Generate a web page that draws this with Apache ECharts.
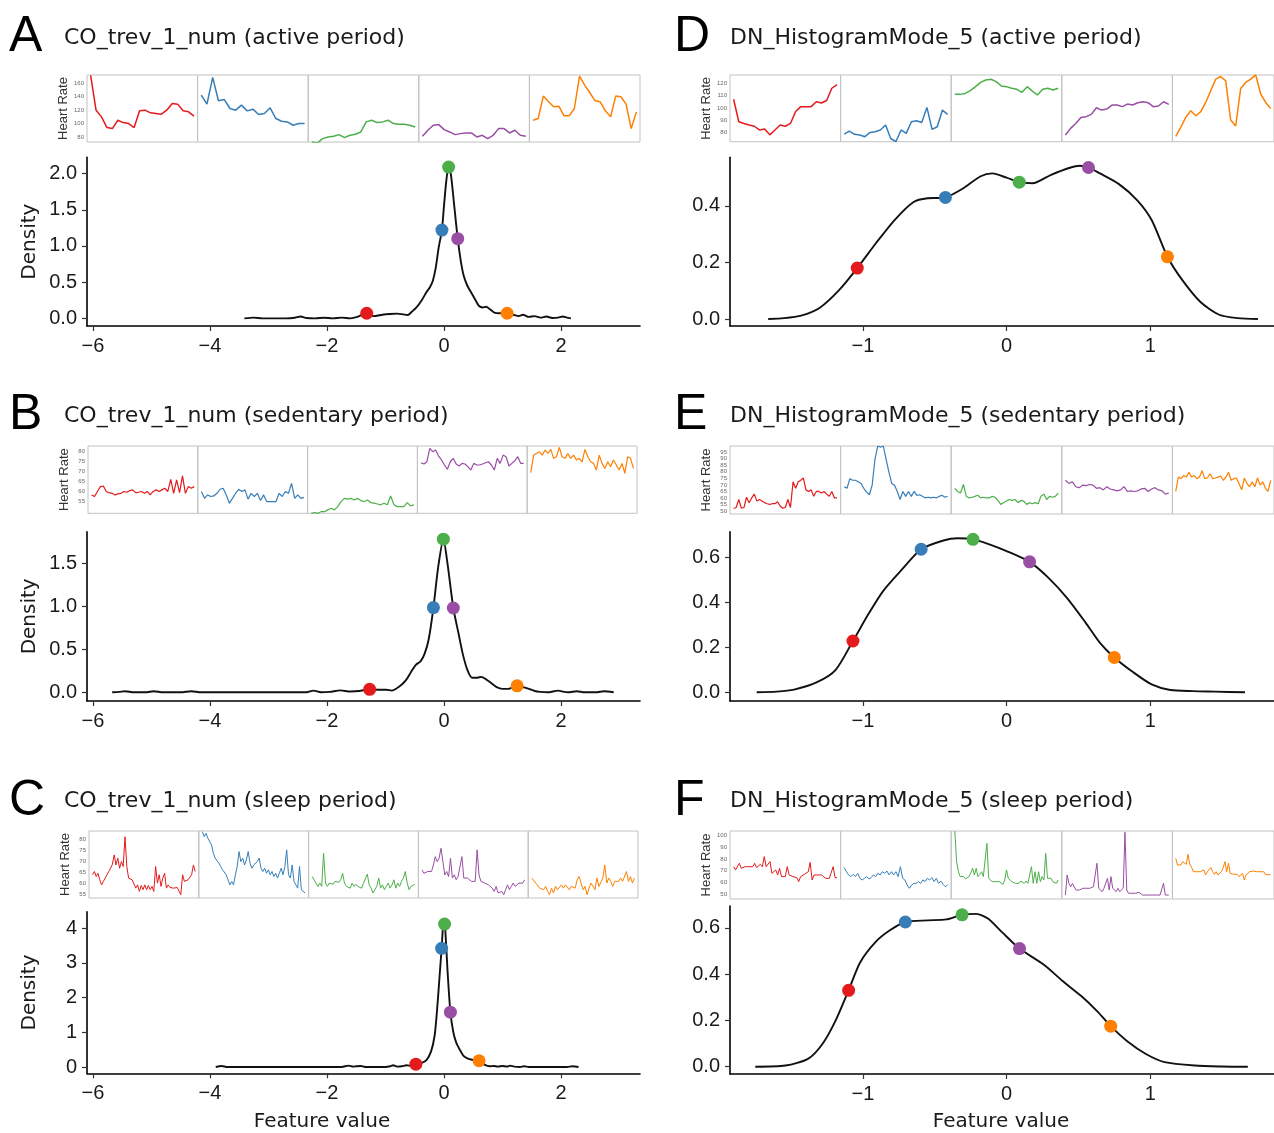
<!DOCTYPE html>
<html><head><meta charset="utf-8">
<script src="https://cdn.jsdelivr.net/npm/echarts@6/dist/echarts.min.js"></script>
<style>html,body{margin:0;padding:0;background:#fff}#c{width:1274px;height:1133px}</style>
</head><body><div id="c"></div>
<script>
// ---------- DATA ----------
const seriesColors = ['#E41A1C','#377EB8','#4DAF4A','#984EA3','#FF7F00'];
const panelLetters = ['A','B','C','D','E','F'];
const panelTitles = ['CO_trev_1_num (active period)','CO_trev_1_num (sedentary period)','CO_trev_1_num (sleep period)',
  'DN_HistogramMode_5 (active period)','DN_HistogramMode_5 (sedentary period)','DN_HistogramMode_5 (sleep period)'];
const xAxisTitle = 'Feature value';

// heart-rate strips (red, blue, green, purple, orange)
const hrA = [
 [172,120,110,94,92.5,105,101.5,100,94,119,120,116,115,114,120,130,129,119,117.5,111],
 [142.5,129,169,134,136,122.5,120,127.5,119,121.5,113.5,115,123.5,107.5,103.5,102.5,97.5,100,100],
 [72.5,71,77.5,80,81,83.5,79,82.5,84,87.5,102.5,105,101.5,102.5,105,100,99,99,97.5,95],
 [81,90,97.5,98.5,91,87.5,83.5,85,86,86,80,82.5,77.5,82.5,92.5,92.5,86,90,82.5,81],
 [105,107.5,141,132.5,125,126,111.5,111.5,122.5,171,157.5,146,134,132.5,119,110,141,140,129,92.5,117.5]
];
const hrB = [
 [58.3,57.5,60,62.4,62.7,60,59.4,59.1,58.3,58.8,59.1,60,59.6,60.4,60.8,59.4,59.6,60,59.1,60,58.3,60,60.8,60,60.8,61.6,60,66,59.1,65.7,59.4,67.7,59.1,62.4,61.6,62.4],
 [60,56.6,58.3,57.5,57.8,59.1,61.1,61.6,58.3,54.2,56.6,59.1,61.1,60,60.8,56.2,59.1,57.5,59.1,55.5,58.3,55,55,55,55,59.1,57.5,60,59.1,64,56.6,58.3,56.6,57.1],
 [49.2,49.6,49.2,50,50,50.9,51.7,50.9,52.5,55,56.6,56.2,56.6,55.8,56.6,55.5,55,55.8,54.5,54.2,53.8,53.4,54.2,53.4,57.8,53.4,52.5,52.5,52.5,54.5,52.9,53.4],
 [74.2,73.6,74.7,81.3,79.7,80.5,77.5,75.6,73.1,71,74.7,76.4,73.6,72.6,73.9,73.6,72.3,70.6,73.9,73.1,73.1,73.6,74.2,74.7,73.1,70.6,76.4,73.9,78,77.2,72.6,73.9,75.2,77.2,73.9,73.9],
 [69.3,78,78.8,79.7,78,80.5,78.8,80.8,76.4,77.2,81.8,77.2,76.4,78.8,76.4,78,75.6,76.4,74.7,80.8,77.2,74.7,73.9,70.6,78,73.9,71.4,74.7,72.3,75.6,73.1,70.6,73.9,69,77.2,76.4,71.4]
];
const hrC = [
 [63.8,65.3,63,64.5,61.5,59.2,60.8,62.3,63.8,65.3,66.8,68.6,72.9,68.3,71.4,66.8,69.8,67.6,81.2,67.6,62.3,62.6,61.5,60.8,57.7,59.2,56.2,58.9,57,59.2,57,58.9,57,58.5,56.2,67.6,60,63.8,58.5,62.3,64.5,57.7,59.2,58,58.5,57.7,58.5,58,58.5,54.7,63.8,60.8,61.1,61.5,62.3,63.8,68.3,65.3],
 [83.5,81.2,82.7,80.5,81.2,77.4,73.6,71.4,72.1,69.1,67.6,66.1,66.8,63.8,61.5,59.2,60.8,59.2,63.8,67.6,74.4,69.8,71.4,68.3,70.6,74.4,69.1,66.8,68.3,67.6,69.8,71.4,66.8,65.3,66.8,64.5,66.1,63.8,65.3,63,64.5,62.3,64.5,66.8,63.8,67.6,75.2,63.8,62.3,68.3,60.8,59.2,57.7,67.6,57,56.2,55.5],
 [63,62.3,60,58.5,60,58.5,73.6,60,58.5,60,60.8,59.5,60.8,61.5,60.4,61.5,64.5,60,58.5,59.2,57.7,60,58.5,59.5,58.5,59.2,57.7,60,60,64.1,59.2,57.7,55.5,57,58.5,62.3,57.7,59.2,57,58.5,60,57.7,59.2,61.5,57.7,60,58.5,60.8,62.3,65.3,60,57,58.5,59.2,59.5],
 [66.1,64.5,63.8,65.3,64.5,65.3,68.3,72.1,69.8,71.4,75.9,69.8,63.8,65.3,63,71.4,62.3,63.8,61.5,63,62.3,72.1,62.3,61.5,62.3,61.5,60.8,61.5,60.8,75.2,63.8,60.8,61.5,60,60.8,59.2,60,57.7,56.2,58.5,55.5,54.7,56.2,54.7,57,59.2,57,58.5,60,58.5,59.2,60,60.8,60,61.5],
 [62.3,61.5,60,60.8,57.7,58.5,57,58.5,56.2,54.7,57.7,55.5,58.5,57,57.7,59.2,57.7,59.2,58.5,57,58.5,59.2,57.7,61.5,63,60,57,58.5,54.7,57.7,60,59.2,57,62.3,58.5,59.2,62.3,68.3,60,62.3,60.8,58.5,60.8,61.5,60.8,62.3,60.8,61.5,65.3,60.8,63,60,62.3]
];
const hrD = [
 [107,88.7,87.3,86,85,82,82.7,78,82,86,85,87.3,97,101,101,101,105,104,106,116,119],
 [78.6,81,78.4,77.8,76.5,80,80.5,82,86,75,72.4,82,79.2,88.7,89.5,88,100.4,82.4,84.6,98.2,94.7],
 [111,111,111.8,114,117.3,120.8,122.7,123.3,121.4,117.8,117.3,116,115.1,112.7,117.3,113.7,110.5,115.1,116,114.6,116],
 [77.8,83.3,87.3,92.2,92.8,94.7,100.1,98.2,99,102.3,102.3,101,103.1,102.3,104.2,105,104.2,101,101.5,105,102.9],
 [76.7,84,92.2,97.6,93.5,96.8,104.4,113.9,123.4,125.6,122,90.1,85.2,115.8,120.7,123.4,126.9,111.3,104.4,99.4]
];
const hrE = [
 [52.2,52.9,59,52.4,52.9,60.7,56.6,60.2,63.1,57.8,59,57.8,56.6,55.8,55.3,55.8,55.8,57.3,54.1,52.4,52.9,59,52.9,72.4,67.5,72.4,73.6,75.3,66.3,65.1,66.3,61.4,65.1,65.1,63.9,65.1,63.1,61.4,65.1,60.2,60.2],
 [68.7,67.5,74.8,73.6,73.6,72.4,71.2,67.5,64.6,62.6,69.9,89.4,99.6,98.6,99.6,89.4,79.7,71.2,69.9,65.1,59,65.1,61.4,65.1,61.4,65.1,62.2,62.6,61.4,60.2,60.7,60.2,60.7,60.2,61.4,62.2,60.7,61.4],
 [67.5,65.1,63.9,70.4,61.4,60.2,60.7,61.4,62.2,60.2,60.7,60.2,60.2,61.4,60.7,58.3,55.3,56.6,57.8,59,58.3,59,56.6,58.3,57.8,55.3,56.6,55.8,56.6,55.8,61.4,63.1,59,61.4,60.7,61.4,63.9],
 [73.6,71.2,72.4,68.7,68,69.9,69.5,70.4,69.9,67.5,68,66.3,68.7,67,66.3,65.6,66.3,68.7,65.1,65.6,65.1,65.6,67,67.5,65.1,67,68,66.3,65.6,63.1,63.9],
 [65.1,76,74.8,77.2,76,79.7,76,77.2,74.8,76,80.9,74.8,75.3,78.5,74.8,75.3,76,76.8,73.6,76,79.7,73.6,74.8,75.3,71.2,66.3,75.3,71.2,68.7,72.4,68.7,75.3,69.9,72.4,67.5,65.1,73.6]
];
const hrF = [
 [73.4,70.6,72,76.3,72,72.6,73.4,73.4,73.4,72.6,73.4,76.3,72.6,73.4,75.4,73.4,82,73.4,72,77.7,67.7,69.1,70.6,66.3,72,64.9,66.3,64.9,73.4,66.3,67.7,64.9,66.3,64,60.6,64.9,65.7,66.9,67.7,69.1,77.1,62,66.3,67.7,66.3,64.9,66.3,64.9,63.4,64,63.4,64.9,73.4,64,64],
 [72.6,69.1,66.3,64.9,66.9,64.9,67.7,63.4,62,63.4,64.9,62.9,64,66.3,64.9,67.7,66.3,69.1,67.7,69.7,66.3,69.1,66.3,69.1,64.9,73.4,63.4,62,57.7,54.9,57.7,59.1,59.1,60.6,59.1,62,60.6,63.4,62,64,60.6,63.4,59.1,61.1,58.3,56.3,57.7],
 [104,77.7,69.1,64.9,63.4,64.9,62.9,63.4,64.9,66.3,72,66.3,72,64.9,66.9,69.1,64.9,66.3,93.4,63.4,62,60.6,62,60.6,59.1,60.6,59.1,58.3,62,70.6,63.4,62,60.6,61.1,59.1,60.6,59.1,61.1,60.6,59.1,61.1,59.1,60.6,73.4,59.1,69.1,59.1,69.1,60.6,64.9,62,84.9,63.4,62,63.4,60.6,62,59.1,62],
 [49.1,66.3,59.1,56.3,59.1,57.7,53.4,54.9,53.4,53.4,54.9,53.4,54.9,53.4,54.9,53.4,56.3,57.7,76.3,54.9,53.4,52,54.9,53.4,63.4,53.4,64.9,54.9,53.4,52,54.9,52,53.4,54.9,102.9,53.4,50.6,49.7,50.6,49.1,50.6,49.1,51.4,50.6,49.1,50.6,49.1,48.6,49.1,48.6,49.1,48.6,49.1,48.6,49.1,48.6,59.1,49.1,49.1,49.1],
 [80.6,74.9,76.3,74.9,77.7,76.3,75.4,84,75.4,72.9,69.1,67.7,69.1,70.6,69.1,67.7,70.6,66.3,69.1,70.6,72.6,69.1,66.9,69.1,66.3,67.7,69.1,72.6,77.7,69.1,76.3,67.7,69.1,66.9,66.3,66.9,64.9,64,67.7,62,66.3,67.7,69.1,67.7,69.7,70.6,69.1,70.6,69.1,67.7,69.1,66.9,67.7,66.3,66.9]
];
const hrTicksA = [80,100,120,140,160];
const hrTicksB = [55,60,65,70,75,80];
const hrTicksC = [55,60,65,70,75,80];
const hrTicksD = [80,90,100,110,120];
const hrTicksE = [50,55,60,65,70,75,80,85,90,95];
const hrTicksF = [50,60,70,80,90,100];
const hrRangeA = [72.5,172.5], hrRangeB = [49.2,82.5], hrRangeC = [53.2,83.8];
const hrRangeD = [72.4,126.8], hrRangeE = [48.0,99.6], hrRangeF = [45.7,104];

// density curves [feature value, density]
const densA = [[-3.41,0],[-3.25,0.01],[-3.1,0],[-2.9,0],[-2.7,0],[-2.55,0.008],[-2.45,0.025],[-2.35,0.005],[-2.2,0],[-2.05,0.008],[-1.9,0],[-1.75,0.01],[-1.6,0],[-1.48,0.02],[-1.32,0.07],[-1.2,0.03],[-1.05,0.05],[-0.92,0.06],[-0.8,0.065],[-0.7,0.055],[-0.62,0.045],[-0.55,0.09],[-0.47,0.15],[-0.38,0.25],[-0.3,0.36],[-0.24,0.43],[-0.19,0.52],[-0.14,0.7],[-0.09,0.98],[-0.035,1.22],[0,1.55],[0.04,1.9],[0.08,2.1],[0.12,1.98],[0.17,1.6],[0.235,1.1],[0.29,0.78],[0.34,0.58],[0.4,0.45],[0.47,0.35],[0.54,0.25],[0.6,0.17],[0.66,0.15],[0.72,0.16],[0.78,0.13],[0.86,0.08],[0.95,0.07],[1.08,0.07],[1.18,0.05],[1.28,0.03],[1.35,0.05],[1.45,0.02],[1.55,0.03],[1.65,0.01],[1.75,0.025],[1.85,0.005],[1.95,0.01],[2.03,0.025],[2.1,0.01],[2.17,0]];
const densB = [[-5.67,0],[-5.55,0.005],[-5.45,0.012],[-5.3,0],[-5.1,0],[-4.96,0.012],[-4.8,0],[-4.5,0],[-4.32,0.012],[-4.15,0],[-3.5,0],[-2.8,0],[-2.35,0],[-2.23,0.02],[-2.1,0],[-1.95,0.005],[-1.77,0.022],[-1.6,0.01],[-1.45,0.015],[-1.27,0.035],[-1.1,0.03],[-0.99,0.03],[-0.89,0.02],[-0.8,0.05],[-0.72,0.09],[-0.64,0.15],[-0.56,0.24],[-0.48,0.32],[-0.4,0.36],[-0.33,0.45],[-0.26,0.62],[-0.18,0.985],[-0.1,1.45],[-0.01,1.78],[0.06,1.5],[0.16,0.98],[0.25,0.68],[0.32,0.45],[0.4,0.26],[0.48,0.17],[0.57,0.17],[0.64,0.18],[0.72,0.15],[0.8,0.11],[0.9,0.06],[1,0.04],[1.1,0.04],[1.25,0.075],[1.35,0.06],[1.45,0.04],[1.55,0.015],[1.65,0.005],[1.77,0],[1.95,0.02],[2.05,0.005],[2.12,0],[2.27,0.012],[2.4,0],[2.6,0],[2.73,0.012],[2.9,0]];
const densC = [[-3.9,0],[-3.8,0.03],[-3.7,0],[-3.2,0],[-2.6,0],[-2,0],[-1.75,0],[-1.63,0.04],[-1.55,0.01],[-1.5,0.02],[-1.42,0.03],[-1.35,0],[-1.2,0],[-1,0],[-0.92,0.02],[-0.87,0.05],[-0.8,0.01],[-0.72,0.02],[-0.64,0.05],[-0.55,0.03],[-0.48,0.08],[-0.38,0.12],[-0.3,0.2],[-0.22,0.45],[-0.16,0.9],[-0.12,1.6],[-0.08,2.5],[-0.04,3.42],[-0.01,4.2],[0.005,4.25],[0.02,4.05],[0.06,2.8],[0.11,1.58],[0.16,1],[0.21,0.7],[0.27,0.5],[0.33,0.33],[0.4,0.25],[0.48,0.21],[0.6,0.18],[0.7,0.06],[0.78,0.02],[0.85,0.03],[0.92,0.01],[1,0.03],[1.08,0.01],[1.13,0.04],[1.2,0.01],[1.3,0],[1.37,0.02],[1.45,0],[1.8,0],[2.1,0],[2.2,0.02],[2.3,0]];
const densD = [[-1.66,0],[-1.55,0.003],[-1.43,0.012],[-1.3,0.04],[-1.17,0.1],[-1.04,0.18],[-0.91,0.268],[-0.78,0.35],[-0.65,0.413],[-0.55,0.427],[-0.48,0.428],[-0.426,0.43],[-0.31,0.46],[-0.18,0.505],[-0.1,0.515],[0,0.5],[0.088,0.484],[0.18,0.48],[0.31,0.51],[0.44,0.535],[0.51,0.542],[0.57,0.536],[0.65,0.515],[0.78,0.478],[0.91,0.42],[1.01,0.35],[1.12,0.22],[1.22,0.14],[1.35,0.06],[1.48,0.015],[1.61,0.003],[1.75,0]];
const densE = [[-1.74,0],[-1.6,0.003],[-1.48,0.012],[-1.32,0.045],[-1.19,0.1],[-1.07,0.228],[-0.96,0.35],[-0.86,0.45],[-0.73,0.545],[-0.595,0.636],[-0.44,0.675],[-0.34,0.685],[-0.234,0.68],[-0.13,0.66],[0,0.628],[0.16,0.58],[0.29,0.51],[0.42,0.42],[0.55,0.31],[0.65,0.22],[0.75,0.155],[0.88,0.09],[1.01,0.035],[1.14,0.01],[1.3,0.005],[1.45,0.003],[1.66,0]];
const densF = [[-1.75,0],[-1.54,0.005],[-1.38,0.035],[-1.28,0.1],[-1.19,0.2],[-1.1,0.33],[-1.02,0.45],[-0.91,0.54],[-0.81,0.59],[-0.705,0.625],[-0.55,0.632],[-0.42,0.636],[-0.31,0.656],[-0.21,0.66],[-0.13,0.64],[-0.03,0.58],[0.09,0.51],[0.26,0.44],[0.39,0.37],[0.52,0.305],[0.63,0.24],[0.725,0.175],[0.84,0.11],[0.97,0.055],[1.1,0.02],[1.31,0.005],[1.5,0.001],[1.68,0]];

// highlighted example points (red, blue, green, purple, orange)
const ptsA = [[-1.32,0.07],[-0.035,1.22],[0.08,2.09],[0.235,1.1],[1.08,0.07]];
const ptsB = [[-1.27,0.035],[-0.18,0.985],[-0.01,1.78],[0.16,0.98],[1.25,0.075]];
const ptsC = [[-0.48,0.08],[-0.04,3.42],[0.01,4.12],[0.11,1.58],[0.6,0.18]];
const ptsD = [[-1.04,0.18],[-0.426,0.43],[0.088,0.484],[0.57,0.536],[1.12,0.22]];
const ptsE = [[-1.07,0.228],[-0.595,0.636],[-0.234,0.68],[0.16,0.58],[0.75,0.155]];
const ptsF = [[-1.1,0.33],[-0.705,0.625],[-0.31,0.656],[0.09,0.51],[0.725,0.175]];

const xTicksLeft = [-6,-4,-2,0,2];
const xTicksRight = [-1,0,1];
const yTicksA = [0,0.5,1,1.5,2];
const yTicksB = [0,0.5,1,1.5];
const yTicksC = [0,1,2,3,4];
const yTicksD = [0,0.2,0.4];
const yTicksE = [0,0.2,0.4,0.6];
const yTicksF = [0,0.2,0.4,0.6];

// ---------- LAYOUT ----------
const layouts = [
 {lx:9,  ly:12,  tx:64,  ty:27,  sL:87,  sW:110.6, sT:75,  sH:67,   dL:87,  dW:553, dT:157.3, dH:168.7},
 {lx:9,  ly:390, tx:64,  ty:405, sL:88,  sW:109.8, sT:446, sH:67.3, dL:87,  dW:553, dT:531.7, dH:169.3},
 {lx:9,  ly:776, tx:64,  ty:790, sL:89,  sW:109.8, sT:831, sH:67,   dL:87,  dW:553, dT:911.7, dH:161.6},
 {lx:674,ly:12,  tx:730, ty:27,  sL:730, sW:110.6, sT:75,  sH:66.7, dL:730, dW:544, dT:157.3, dH:168.7},
 {lx:674,ly:390, tx:730, ty:405, sL:730, sW:110.6, sT:446, sH:68,   dL:730, dW:544, dT:531.7, dH:169.3},
 {lx:674,ly:776, tx:730, ty:790, sL:730, sW:110.6, sT:831, sH:68,   dL:730, dW:544, dT:906,   dH:168}
];
const xTitlePos = [[322,1122],[1001,1122]];
const panels = [
 {hr:hrA, hrT:hrTicksA, hrR:hrRangeA, dens:densA, pts:ptsA, yT:yTicksA, yR:[-0.106,2.225], xT:xTicksLeft, xR:[-6.1,3.35], dec:1, lw:1.5, yName:'Density'},
 {hr:hrB, hrT:hrTicksB, hrR:hrRangeB, dens:densB, pts:ptsB, yT:yTicksB, yR:[-0.101,1.867], xT:xTicksLeft, xR:[-6.1,3.35], dec:1, lw:1.2, yName:'Density'},
 {hr:hrC, hrT:hrTicksC, hrR:hrRangeC, dens:densC, pts:ptsC, yT:yTicksC, yR:[-0.182,4.476], xT:xTicksLeft, xR:[-6.1,3.35], dec:0, lw:1.0, yName:'Density'},
 {hr:hrD, hrT:hrTicksD, hrR:hrRangeD, dens:densD, pts:ptsD, yT:yTicksD, yR:[-0.0248,0.572], xT:xTicksRight, xR:[-1.926,1.862], dec:1, lw:1.5, yName:''},
 {hr:hrE, hrT:hrTicksE, hrR:hrRangeE, dens:densE, pts:ptsE, yT:yTicksE, yR:[-0.0387,0.714], xT:xTicksRight, xR:[-1.926,1.862], dec:1, lw:1.2, yName:''},
 {hr:hrF, hrT:hrTicksF, hrR:hrRangeF, dens:densF, pts:ptsF, yT:yTicksF, yR:[-0.0315,0.694], xT:xTicksRight, xR:[-1.926,1.862], dec:1, lw:1.0, yName:''}
];

function fmt(v, dec){ const s = Math.abs(v).toFixed(dec); return (v < 0 ? '\u2212' : '') + s; }

const grids=[], xAxes=[], yAxes=[], series=[], titles=[];
panels.forEach((p, pi) => {
  const L = layouts[pi];
  titles.push({text:panelLetters[pi], left:L.lx, top:L.ly, padding:0,
    textStyle:{fontFamily:'Liberation Sans, Arial, sans-serif', fontSize:50, fontWeight:'normal', color:'#000'}});
  titles.push({text:panelTitles[pi], left:L.tx, top:L.ty, padding:0,
    textStyle:{fontFamily:'DejaVu Sans, Verdana, sans-serif', fontSize:22, fontWeight:'normal', color:'#1a1a1a'}});
  p.hr.forEach((arr, si) => {
    const gi = grids.length;
    grids.push({left:L.sL + si*L.sW, top:L.sT, width:L.sW, height:L.sH, show:true, borderColor:'#c2c2c2', borderWidth:1});
    const n = arr.length, pad = (n-1)*0.035;
    xAxes.push({gridIndex:gi, type:'value', min:-pad, max:n-1+pad, show:false});
    yAxes.push({gridIndex:gi, type:'value', min:p.hrR[0], max:p.hrR[1],
      axisLine:{show:false}, axisTick:{show:false}, splitLine:{show:false},
      axisLabel:{show:si===0, customValues:p.hrT, fontSize:6, color:'#666', margin:3, fontFamily:'Liberation Sans'},
      name: si===0 ? 'Heart Rate' : '', nameLocation:'middle', nameGap:17, nameRotate:90,
      nameTextStyle:{fontSize:13, color:'#333', fontFamily:'Liberation Sans'}});
    series.push({type:'line', xAxisIndex:gi, yAxisIndex:gi, data:arr.map((v,k)=>[k,v]),
      showSymbol:false, symbol:'none', lineStyle:{color:seriesColors[si], width:p.lw}, silent:true, clip:true});
  });
  const gi = grids.length;
  grids.push({left:L.dL, top:L.dT, width:L.dW, height:L.dH});
  xAxes.push({gridIndex:gi, type:'value', min:p.xR[0], max:p.xR[1],
    axisLine:{onZero:false, lineStyle:{color:'#000', width:1.6}},
    axisTick:{customValues:p.xT, length:5, lineStyle:{color:'#333', width:1.2}},
    axisLabel:{customValues:p.xT, formatter:v=>fmt(v,0), fontSize:20, color:'#1a1a1a', margin:10, fontFamily:'Liberation Sans'},
    splitLine:{show:false}});
  yAxes.push({gridIndex:gi, type:'value', min:p.yR[0], max:p.yR[1],
    axisLine:{onZero:false, lineStyle:{color:'#000', width:1.6}},
    axisTick:{customValues:p.yT, length:5, lineStyle:{color:'#333', width:1.2}},
    axisLabel:{customValues:p.yT, formatter:v=>fmt(v,p.dec), fontSize:20, color:'#1a1a1a', margin:10, fontFamily:'Liberation Sans'},
    splitLine:{show:false}, name:p.yName, nameLocation:'middle', nameGap:47, nameRotate:90,
    nameTextStyle:{fontSize:20, fontFamily:'DejaVu Sans', color:'#1a1a1a'}});
  series.push({type:'line', xAxisIndex:gi, yAxisIndex:gi, data:p.dens, showSymbol:false, symbol:'none',
    smooth:0.25, lineStyle:{color:'#111', width:1.9}, silent:true, z:3});
  series.push({type:'scatter', xAxisIndex:gi, yAxisIndex:gi, symbolSize:13, z:5, silent:true,
    data:p.pts.map((pt,k)=>({value:pt, itemStyle:{color:seriesColors[k], opacity:1}}))});
});

const graphics = xTitlePos.map(pos => ({type:'text', x:pos[0], y:pos[1],
  style:{text:xAxisTitle, align:'center', verticalAlign:'middle', font:'20px "DejaVu Sans", Verdana, sans-serif', fill:'#1a1a1a'}}));

const chart = echarts.init(document.getElementById('c'), null, {renderer:'canvas'});
chart.setOption({animation:false, backgroundColor:'#fff', title:titles, grid:grids, xAxis:xAxes, yAxis:yAxes, series:series, graphic:graphics});
</script></body></html>
